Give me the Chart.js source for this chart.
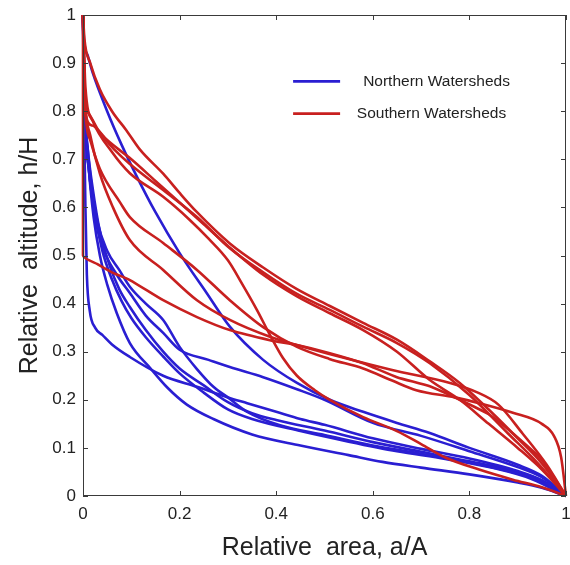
<!DOCTYPE html>
<html>
<head>
<meta charset="utf-8">
<script src="https://cdn.jsdelivr.net/npm/chart.js@4.4.1/dist/chart.umd.min.js"></script>
<style>
  html, body { margin: 0; padding: 0; background: #ffffff; }
  #wrap { width: 570px; height: 565px; }
</style>
</head>
<body>
<div id="wrap"><canvas id="c" width="570" height="565"></canvas></div>
<script>
// ---- Data (x = relative area a/A, y = relative altitude h/H) ----
const seriesNames = ["Northern Watersheds", "Southern Watersheds"];
const xTicks = [0, 0.2, 0.4, 0.6, 0.8, 1];
const yTicks = [0, 0.1, 0.2, 0.3, 0.4, 0.5, 0.6, 0.7, 0.8, 0.9, 1];

const north1 = [[0,1],[0.002,0.95],[0.01,0.915],[0.02,0.88],[0.05,0.8],[0.08,0.73],[0.112,0.663],[0.15,0.59],[0.2,0.505],[0.256,0.422],[0.304,0.352],[0.373,0.283],[0.443,0.235],[0.511,0.2],[0.58,0.175],[0.65,0.152],[0.718,0.131],[0.8,0.1],[0.9,0.065],[0.95,0.042],[1,0]];
const north2 = [[0,1],[0.002,0.85],[0.006,0.76],[0.012,0.68],[0.022,0.6],[0.04,0.52],[0.07,0.46],[0.097,0.422],[0.13,0.375],[0.166,0.339],[0.2,0.304],[0.26,0.283],[0.304,0.268],[0.373,0.247],[0.443,0.222],[0.5,0.2],[0.6,0.152],[0.7,0.125],[0.8,0.093],[0.9,0.06],[0.95,0.039],[1,0]];
const north3 = [[0,1],[0.002,0.8],[0.005,0.6],[0.008,0.46],[0.014,0.385],[0.025,0.35],[0.04,0.335],[0.06,0.315],[0.097,0.289],[0.166,0.25],[0.236,0.227],[0.3,0.205],[0.34,0.193],[0.4,0.175],[0.45,0.16],[0.5,0.148],[0.6,0.12],[0.7,0.098],[0.8,0.078],[0.9,0.052],[0.95,0.033],[1,0]];
const north4 = [[0,1],[0.004,0.8],[0.012,0.68],[0.022,0.58],[0.035,0.5],[0.05,0.44],[0.07,0.38],[0.097,0.318],[0.14,0.265],[0.175,0.225],[0.215,0.19],[0.27,0.16],[0.35,0.128],[0.45,0.105],[0.55,0.085],[0.62,0.071],[0.7,0.059],[0.8,0.045],[0.9,0.028],[0.95,0.017],[1,0]];
const north5 = [[0,1],[0.003,0.82],[0.008,0.74],[0.016,0.66],[0.03,0.57],[0.05,0.51],[0.075,0.47],[0.097,0.435],[0.13,0.4],[0.166,0.366],[0.2,0.31],[0.235,0.265],[0.27,0.227],[0.3,0.205],[0.34,0.175],[0.408,0.147],[0.5,0.127],[0.6,0.105],[0.7,0.088],[0.8,0.07],[0.9,0.047],[0.95,0.03],[1,0]];
const north6 = [[0,1],[0.004,0.8],[0.01,0.72],[0.02,0.64],[0.035,0.55],[0.055,0.48],[0.075,0.43],[0.097,0.393],[0.13,0.345],[0.166,0.3],[0.2,0.265],[0.25,0.23],[0.3,0.195],[0.35,0.172],[0.4,0.158],[0.5,0.136],[0.6,0.112],[0.7,0.092],[0.8,0.072],[0.9,0.05],[0.95,0.032],[1,0]];
const north7 = [[0,1],[0.005,0.76],[0.012,0.68],[0.022,0.6],[0.04,0.51],[0.06,0.45],[0.08,0.405],[0.1,0.37],[0.13,0.33],[0.166,0.29],[0.2,0.255],[0.25,0.215],[0.3,0.18],[0.35,0.16],[0.45,0.135],[0.55,0.113],[0.65,0.093],[0.75,0.077],[0.85,0.058],[0.93,0.035],[1,0]];

const south1 = [[0,1],[0,0.5],[0.03,0.482],[0.06,0.465],[0.097,0.449],[0.166,0.407],[0.236,0.372],[0.304,0.345],[0.387,0.324],[0.443,0.314],[0.511,0.297],[0.58,0.276],[0.65,0.247],[0.718,0.228],[0.78,0.2],[0.84,0.17],[0.89,0.13],[0.95,0.075],[1,0]];
const south2 = [[0,1],[0.003,0.95],[0.015,0.9],[0.035,0.845],[0.06,0.8],[0.09,0.76],[0.118,0.72],[0.166,0.67],[0.2,0.63],[0.236,0.59],[0.304,0.525],[0.373,0.475],[0.443,0.43],[0.511,0.395],[0.58,0.36],[0.65,0.325],[0.718,0.28],[0.78,0.235],[0.85,0.17],[0.9,0.12],[0.95,0.068],[1,0]];
const south3 = [[0,1],[0.003,0.82],[0.008,0.8],[0.035,0.755],[0.065,0.72],[0.097,0.69],[0.166,0.636],[0.236,0.58],[0.304,0.515],[0.373,0.465],[0.443,0.42],[0.511,0.387],[0.58,0.352],[0.65,0.318],[0.718,0.276],[0.8,0.21],[0.88,0.13],[0.94,0.07],[1,0]];
const south4 = [[0,1],[0.004,0.8],[0.02,0.77],[0.05,0.74],[0.1,0.7],[0.15,0.655],[0.2,0.61],[0.25,0.565],[0.3,0.52],[0.373,0.46],[0.443,0.415],[0.511,0.38],[0.58,0.345],[0.65,0.3],[0.718,0.241],[0.78,0.2],[0.84,0.15],[0.9,0.1],[0.95,0.055],[1,0]];
const south5 = [[0,1],[0.005,0.85],[0.02,0.78],[0.06,0.715],[0.097,0.671],[0.166,0.622],[0.22,0.575],[0.26,0.535],[0.3,0.49],[0.33,0.44],[0.36,0.387],[0.387,0.335],[0.414,0.287],[0.443,0.25],[0.48,0.22],[0.511,0.2],[0.58,0.164],[0.65,0.135],[0.7,0.108],[0.75,0.08],[0.82,0.055],[0.89,0.034],[0.95,0.018],[1,0]];
const south6 = [[0,1],[0.003,0.85],[0.015,0.75],[0.035,0.67],[0.062,0.6],[0.097,0.532],[0.166,0.47],[0.236,0.407],[0.304,0.366],[0.387,0.331],[0.45,0.312],[0.53,0.29],[0.64,0.262],[0.76,0.235],[0.815,0.216],[0.86,0.19],[0.91,0.13],[0.96,0.065],[1,0]];
const south7 = [[0,1],[0.005,0.8],[0.015,0.74],[0.035,0.68],[0.077,0.61],[0.097,0.58],[0.166,0.526],[0.236,0.47],[0.304,0.407],[0.373,0.351],[0.443,0.31],[0.51,0.285],[0.58,0.265],[0.64,0.24],[0.69,0.22],[0.77,0.205],[0.82,0.193],[0.89,0.173],[0.95,0.15],[0.975,0.125],[0.99,0.08],[1,0]];

const northCurves = [north1, north2, north3, north4, north5, north6, north7];
const southCurves = [south1, south2, south3, south4, south5, south6, south7];

// ---- Styles ----
const BLUE = '#2a1ed2';
const RED = '#c8201f';
const FONT = "'Liberation Sans', Arial, Helvetica, sans-serif";

function toPts(arr) { return arr.map(p => ({x: p[0], y: p[1]})); }

const lineStyle = { borderWidth: 2.6, pointRadius: 0, cubicInterpolationMode: 'monotone', clip: 6, fill: false };
const datasets = [];
northCurves.forEach((c, i) => datasets.push(Object.assign({
  label: seriesNames[0] + ' ' + (i + 1), data: toPts(c), borderColor: BLUE, order: 1
}, lineStyle)));
southCurves.forEach((c, i) => {
  const ds = Object.assign({
    label: seriesNames[1] + ' ' + (i + 1), data: toPts(c), borderColor: RED, order: 0
  }, lineStyle);
  if (c[1][0] === 0) { ds.cubicInterpolationMode = 'default'; ds.tension = 0.2; } // sharp corner on the axis
  datasets.push(ds);
});

// Frame with inward ticks on all four sides (MATLAB-style box)
const framePlugin = {
  id: 'frame',
  afterDatasetsDraw(chart) {
    const {ctx, chartArea: a, scales: {x, y}} = chart;
    ctx.save();
    ctx.strokeStyle = '#3a3a3a';
    ctx.lineWidth = 1;
    ctx.strokeRect(a.left + 0.5, a.top + 0.5, a.right - a.left - 1, a.bottom - a.top - 1);
    const tl = 5;
    ctx.beginPath();
    xTicks.forEach(v => {
      const px = Math.round(x.getPixelForValue(v)) + 0.5;
      ctx.moveTo(px, a.bottom); ctx.lineTo(px, a.bottom - tl);
      ctx.moveTo(px, a.top); ctx.lineTo(px, a.top + tl);
    });
    yTicks.forEach(v => {
      const py = Math.round(y.getPixelForValue(v)) + 0.5;
      ctx.moveTo(a.left, py); ctx.lineTo(a.left + tl, py);
      ctx.moveTo(a.right, py); ctx.lineTo(a.right - tl, py);
    });
    ctx.stroke();
    ctx.restore();
  }
};

// In-plot legend
const legendPlugin = {
  id: 'inLegend',
  afterDraw(chart) {
    const {ctx, scales: {x, y}} = chart;
    const items = [
      {text: seriesNames[0], color: BLUE, lx: 0.435, ly: 0.862, tx: 0.58},
      {text: seriesNames[1], color: RED, lx: 0.435, ly: 0.795, tx: 0.567}
    ];
    ctx.save();
    ctx.font = '15.5px ' + FONT;
    ctx.textBaseline = 'middle';
    ctx.textAlign = 'left';
    items.forEach(it => {
      const px = x.getPixelForValue(it.lx), py = y.getPixelForValue(it.ly);
      ctx.strokeStyle = it.color;
      ctx.lineWidth = 2.6;
      ctx.beginPath(); ctx.moveTo(px, py); ctx.lineTo(px + 47, py); ctx.stroke();
      ctx.fillStyle = '#222';
      ctx.fillText(it.text, x.getPixelForValue(it.tx), py);
    });
    ctx.restore();
  }
};

new Chart(document.getElementById('c'), {
  type: 'line',
  data: { datasets },
  options: {
    responsive: false,
    animation: false,
    events: [],
    layout: { padding: { top: 15, right: 4, left: 0, bottom: 0 } },
    plugins: { legend: { display: false }, tooltip: { enabled: false }, title: { display: false } },
    scales: {
      x: {
        type: 'linear', min: 0, max: 1,
        grid: { display: false, drawTicks: false },
        border: { display: false },
        afterBuildTicks(s) { s.ticks = xTicks.map(v => ({value: v})); },
        afterFit(s) { s.height = 69; s.paddingLeft = 0; s.paddingRight = 0; },
        ticks: { padding: 8, color: '#222', font: { family: FONT, size: 17 }, maxRotation: 0,
                 callback: v => String(v) },
        title: { display: true, text: 'Relative  area, a/A', color: '#222',
                 font: { family: FONT, size: 25 }, padding: { top: 0, bottom: 2 } }
      },
      y: {
        type: 'linear', min: 0, max: 1,
        grid: { display: false, drawTicks: false },
        border: { display: false },
        afterBuildTicks(s) { s.ticks = yTicks.map(v => ({value: v})); },
        afterFit(s) { s.width = 83; s.paddingTop = 0; s.paddingBottom = 0; },
        ticks: { padding: 7, color: '#222', font: { family: FONT, size: 17 },
                 callback: v => String(v) },
        title: { display: true, text: 'Relative  altitude, h/H', color: '#222',
                 font: { family: FONT, size: 25 }, padding: { top: 15, bottom: 0 } }
      }
    }
  },
  plugins: [framePlugin, legendPlugin]
});
</script>
</body>
</html>
